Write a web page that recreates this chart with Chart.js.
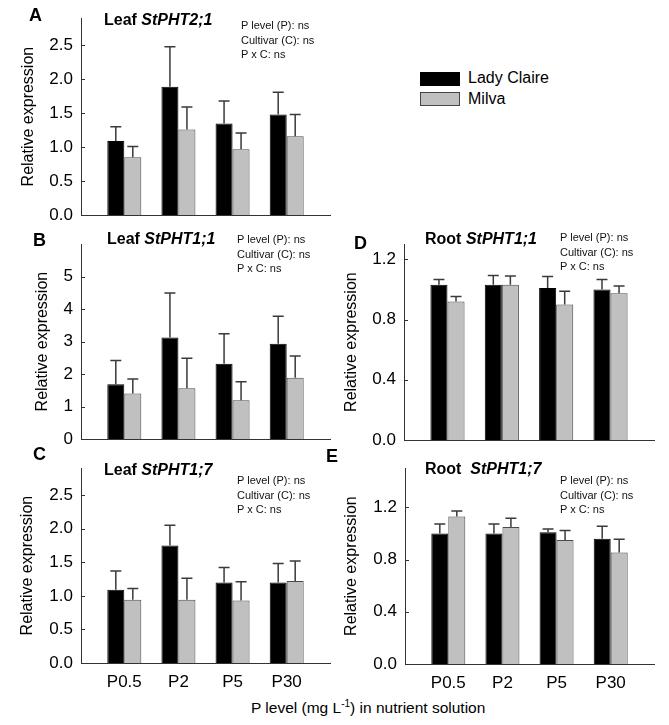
<!DOCTYPE html>
<html>
<head>
<meta charset="utf-8">
<script src="https://cdn.jsdelivr.net/npm/chart.js@4.4.1/dist/chart.umd.min.js"></script>
<style>
  body { margin: 0; background: #fff; font-family: "Liberation Sans", Arial, sans-serif; color: #000; }
  #page { position: relative; width: 669px; height: 725px; overflow: hidden; }
  canvas { position: absolute; }
  .t { position: absolute; white-space: nowrap; }
  .letter { font-size: 18px; font-weight: bold; line-height: 18px; }
  .ttl { font-size: 16px; font-weight: bold; line-height: 16px; }
  .ttl i { font-style: italic; }
  .stats { font-size: 11px; line-height: 14.5px; color: #111; }
  .leg { font-size: 16px; line-height: 16px; }
  .box { position: absolute; width: 38px; height: 12px; }
</style>
</head>
<body>
<div id="page">
  <canvas id="chartA" width="335" height="240" style="left:0;top:0"></canvas>
  <canvas id="chartB" width="335" height="240" style="left:0;top:226px"></canvas>
  <canvas id="chartC" width="335" height="245" style="left:0;top:450px"></canvas>
  <canvas id="chartD" width="334" height="240" style="left:335px;top:226px"></canvas>
  <canvas id="chartE" width="334" height="245" style="left:335px;top:450px"></canvas>

  <div class="t letter" style="left:29px;top:6px">A</div>
  <div class="t letter" style="left:33px;top:231px">B</div>
  <div class="t letter" style="left:33px;top:445px">C</div>
  <div class="t letter" style="left:354px;top:234px">D</div>
  <div class="t letter" style="left:326px;top:447px">E</div>

  <div class="t ttl" style="left:104px;top:12px">Leaf <i>StPHT2;1</i></div>
  <div class="t ttl" style="left:107px;top:231px">Leaf <i>StPHT1;1</i></div>
  <div class="t ttl" style="left:104px;top:462px">Leaf <i>StPHT1;7</i></div>
  <div class="t ttl" style="left:425px;top:231px">Root <i>StPHT1;1</i></div>
  <div class="t ttl" style="left:425px;top:461px">Root &nbsp;<i>StPHT1;7</i></div>

  <div class="t stats" style="left:241px;top:18px">P level (P): ns<br>Cultivar (C): ns<br>P x C: ns</div>
  <div class="t stats" style="left:237px;top:232px">P level (P): ns<br>Cultivar (C): ns<br>P x C: ns</div>
  <div class="t stats" style="left:237px;top:473px">P level (P): ns<br>Cultivar (C): ns<br>P x C: ns</div>
  <div class="t stats" style="left:560px;top:230px">P level (P): ns<br>Cultivar (C): ns<br>P x C: ns</div>
  <div class="t stats" style="left:560px;top:473px">P level (P): ns<br>Cultivar (C): ns<br>P x C: ns</div>

  <div class="box" style="left:420px;top:72px;background:#000;border:1px solid #000"></div>
  <div class="t leg" id="leg0" style="left:468px;top:70px"></div>
  <div class="box" style="left:420px;top:92px;background:#c0c0c0;border:1px solid #444"></div>
  <div class="t leg" id="leg1" style="left:468px;top:91px"></div>

  <div class="t" style="left:251px;top:695px;font-size:15.5px;line-height:18px">P level (mg L<sup style="font-size:10px">-1</sup>) in nutrient solution</div>
</div>

<script>
/* ---------- DATA ---------- */

const pLevels = ['P0.5', 'P2', 'P5', 'P30'];
const cultivars = ['Lady Claire', 'Milva'];

// A: Leaf StPHT2;1
const leafPht21Lady   = [1.09, 1.89, 1.35, 1.48];
const leafPht21LadySe = [0.21, 0.59, 0.33, 0.33];
const leafPht21Milva   = [0.85, 1.26, 0.97, 1.16];
const leafPht21MilvaSe = [0.16, 0.33, 0.24, 0.32];

// B: Leaf StPHT1;1
const leafPht11Lady   = [1.69, 3.13, 2.32, 2.93];
const leafPht11LadySe = [0.73, 1.37, 0.92, 0.85];
const leafPht11Milva   = [1.40, 1.56, 1.19, 1.89];
const leafPht11MilvaSe = [0.45, 0.93, 0.57, 0.67];

// C: Leaf StPHT1;7
const leafPht17Lady   = [1.09, 1.75, 1.20, 1.20];
const leafPht17LadySe = [0.28, 0.30, 0.22, 0.28];
const leafPht17Milva   = [0.94, 0.94, 0.93, 1.22];
const leafPht17MilvaSe = [0.17, 0.32, 0.28, 0.30];

// D: Root StPHT1;1
const rootPht11Lady   = [1.03, 1.03, 1.01, 1.00];
const rootPht11LadySe = [0.035, 0.063, 0.076, 0.065];
const rootPht11Milva   = [0.92, 1.03, 0.90, 0.975];
const rootPht11MilvaSe = [0.032, 0.059, 0.087, 0.048];

// E: Root StPHT1;7
const rootPht17Lady   = [1.00, 1.00, 1.01, 0.96];
const rootPht17LadySe = [0.072, 0.072, 0.025, 0.095];
const rootPht17Milva   = [1.13, 1.05, 0.95, 0.855];
const rootPht17MilvaSe = [0.042, 0.067, 0.072, 0.10];

// y tick values
const ticksHalf = [0, 0.5, 1.0, 1.5, 2.0, 2.5];
const ticksInt  = [0, 1, 2, 3, 4, 5];
const ticksRoot = [0, 0.4, 0.8, 1.2];

/* ---------- PLUGINS ---------- */

// upper-only error bars, drawn from the bar top through the y scale
const errorBars = {
  id: 'errorBars',
  afterDatasetsDraw(chart) {
    const ctx = chart.ctx, ys = chart.scales.y;
    ctx.save();
    ctx.strokeStyle = '#3a3a3a';
    ctx.lineWidth = 1.5;
    chart.data.datasets.forEach((ds, d) => {
      chart.getDatasetMeta(d).data.forEach((bar, i) => {
        const top = ys.getPixelForValue(ds.data[i].y + ds.err[i]);
        ctx.beginPath();
        ctx.moveTo(bar.x, bar.y);
        ctx.lineTo(bar.x, top);
        ctx.moveTo(bar.x - 5.5, top);
        ctx.lineTo(bar.x + 5.5, top);
        ctx.stroke();
      });
    });
    ctx.restore();
  }
};

// short inward tick marks on the y axis
const innerTicks = {
  id: 'innerTicks',
  afterDraw(chart) {
    const ctx = chart.ctx, ys = chart.scales.y, left = chart.chartArea.left;
    ctx.save();
    ctx.strokeStyle = '#333';
    ctx.lineWidth = 1;
    ys.ticks.forEach(t => {
      if (t.value === 0) return;
      const y = Math.round(ys.getPixelForValue(t.value)) + 0.5;
      ctx.beginPath();
      ctx.moveTo(left, y);
      ctx.lineTo(left + 4, y);
      ctx.stroke();
    });
    ctx.restore();
  }
};

/* ---------- PANELS ---------- */

const FONT = '"Liberation Sans", Arial, sans-serif';

function makePanel(id, box, lady, ladySe, milva, milvaSe, yMax, yTicks, digits, showX) {
  const xh = showX ? 30 : 22;
  const pts = arr => arr.map((v, i) => ({ x: i, y: v }));

  new Chart(document.getElementById(id), {
    type: 'bar',
    data: {
      datasets: [
        { label: cultivars[0], data: pts(lady), err: ladySe,
          backgroundColor: '#000', borderColor: '#000', borderWidth: 1 },
        { label: cultivars[1], data: pts(milva), err: milvaSe,
          backgroundColor: '#c0c0c0', borderColor: '#4a4a4a', borderWidth: 1 }
      ]
    },
    options: {
      responsive: false,
      animation: false,
      devicePixelRatio: 1,
      categoryPercentage: 0.628,
      barPercentage: 1.0,
      layout: {
        padding: {
          left: 0,
          top: box.t - box.cy,
          right: box.cx + box.cw - box.r,
          bottom: box.cy + box.ch - box.b - xh
        }
      },
      plugins: { legend: { display: false }, tooltip: { enabled: false } },
      scales: {
        x: {
          type: 'linear',
          min: -0.8, max: 3.8,
          offset: false,
          z: 1,
          grid: { display: false, drawTicks: false, offset: false },
          border: { display: true, color: '#333', width: 1 },
          afterBuildTicks: s => { s.ticks = pLevels.map((p, i) => ({ value: i })); },
          afterFit: s => { s.height = xh; },
          ticks: {
            display: showX,
            padding: 9,
            color: '#000',
            font: { family: FONT, size: 17 },
            callback: v => pLevels[v] ?? ''
          }
        },
        y: {
          min: 0, max: yMax,
          z: 1,
          grid: { display: false, drawTicks: false },
          border: { display: true, color: '#333', width: 1 },
          afterBuildTicks: s => { s.ticks = yTicks.map(v => ({ value: v })); },
          afterFit: s => { s.width = box.l - box.cx; },
          ticks: {
            padding: 8,
            color: '#000',
            font: { family: FONT, size: 17 },
            callback: v => v.toFixed(digits)
          },
          title: {
            display: true,
            text: 'Relative expression',
            color: '#000',
            font: { family: FONT, size: 16 },
            padding: { top: box.tx - box.cx - 9.6, bottom: 0 }
          }
        }
      }
    },
    plugins: [errorBars, innerTicks]
  });
}

document.getElementById('leg0').textContent = cultivars[0];
document.getElementById('leg1').textContent = cultivars[1];

makePanel('chartA', { cx: 0, cy: 0, cw: 335, ch: 240, l: 81, t: 15, r: 330, b: 215, tx: 28.5 },
  leafPht21Lady, leafPht21LadySe, leafPht21Milva, leafPht21MilvaSe, 2.9, ticksHalf, 1, false);

makePanel('chartB', { cx: 0, cy: 226, cw: 335, ch: 240, l: 81, t: 238, r: 330, b: 439, tx: 43 },
  leafPht11Lady, leafPht11LadySe, leafPht11Milva, leafPht11MilvaSe, 6, ticksInt, 0, false);

makePanel('chartC', { cx: 0, cy: 450, cw: 335, ch: 245, l: 81, t: 463, r: 330, b: 663, tx: 28 },
  leafPht17Lady, leafPht17LadySe, leafPht17Milva, leafPht17MilvaSe, 2.9, ticksHalf, 1, true);

makePanel('chartD', { cx: 335, cy: 226, cw: 334, ch: 240, l: 404, t: 240, r: 654, b: 440, tx: 352 },
  rootPht11Lady, rootPht11LadySe, rootPht11Milva, rootPht11MilvaSe, 1.3, ticksRoot, 1, false);

makePanel('chartE', { cx: 335, cy: 450, cw: 334, ch: 245, l: 405, t: 463, r: 654, b: 664, tx: 352 },
  rootPht17Lady, rootPht17LadySe, rootPht17Milva, rootPht17MilvaSe, 1.5, ticksRoot, 1, true);
</script>
</body>
</html>
